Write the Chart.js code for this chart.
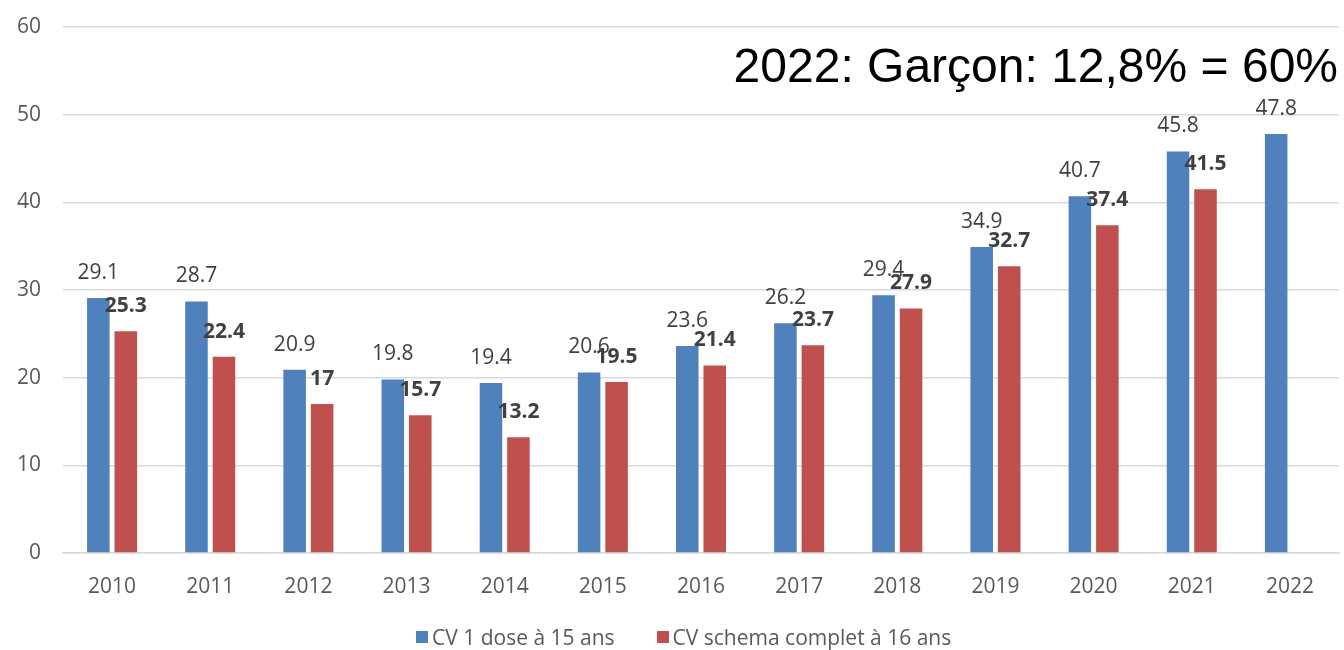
<!DOCTYPE html>
<html lang="fr">
<head>
    <meta charset="UTF-8">
    <title>CV 1 dose / schema complet</title>
    <style>
        * {
            margin: 0;
            padding: 0;
            box-sizing: border-box;
        }

        body {
            background: #ffffff;
            font-family: "Open Sans", sans-serif;
        }

        .chart-box {
            position: relative;
            width: 1344px;
            height: 650px;
        }

        /* big annotation in the top right corner */
        .note {
            position: absolute;
            right: 6px;
            top: 42px;
            font-family: "Liberation Sans", Arial, sans-serif;
            font-size: 48px;
            line-height: 48px;
            color: #000000;
            white-space: nowrap;
        }

        /* legend under the x axis */
        .legend {
            position: absolute;
            left: 416px;
            top: 625px;
            display: flex;
            font-size: 21px;
            line-height: 24px;
            color: #595959;
            white-space: nowrap;
        }

        .legend-item {
            display: flex;
            align-items: center;
            margin-right: 42px;
        }

        .legend-box {
            width: 12px;
            height: 12px;
            margin-right: 4px;
        }
    </style>
</head>
<body>
    <div class="chart-box">
        <canvas id="cvChart"></canvas>
        <div class="note">2022: Garçon: 12,8% = 60%</div>
        <div class="legend" id="legend"></div>
    </div>

    <script src="https://cdn.jsdelivr.net/npm/chart.js"></script>
    <script>
        const years = ['2010', '2011', '2012', '2013', '2014', '2015', '2016', '2017', '2018', '2019', '2020', '2021', '2022'];
        const oneDose = [29.1, 28.7, 20.9, 19.8, 19.4, 20.6, 23.6, 26.2, 29.4, 34.9, 40.7, 45.8, 47.8];
        const fullSchema = [25.3, 22.4, 17, 15.7, 13.2, 19.5, 21.4, 23.7, 27.9, 32.7, 37.4, 41.5, null];
        const yTicks = [0, 10, 20, 30, 40, 50, 60];

        // value labels above the bars (blue normal, red bold)
        const valueLabels = {
            id: 'valueLabels',
            afterDatasetsDraw(chart) {
                const ctx = chart.ctx;
                ctx.save();
                ctx.fillStyle = '#404040';
                ctx.textAlign = 'center';
                ctx.textBaseline = 'middle';
                chart.data.datasets.forEach(function (ds, i) {
                    const meta = chart.getDatasetMeta(i);
                    ctx.font = (i === 1 ? 'bold ' : '') + '21px "Open Sans"';
                    meta.data.forEach(function (bar, j) {
                        const v = ds.data[j];
                        if (v === null) return;
                        ctx.fillText(String(v), bar.x, bar.y - 25);
                    });
                });
                ctx.restore();
            }
        };

        const ctx = document.getElementById('cvChart').getContext('2d');
        const cvChart = new Chart(ctx, {
            type: 'bar',
            data: {
                labels: years,
                datasets: [
                    {
                        label: 'CV 1 dose à 15 ans',
                        data: oneDose,
                        backgroundColor: '#4f81bd',
                        categoryPercentage: 0.56,
                        barPercentage: 0.82
                    },
                    {
                        label: 'CV schema complet à 16 ans',
                        data: fullSchema,
                        backgroundColor: '#c0504d',
                        categoryPercentage: 0.56,
                        barPercentage: 0.82
                    }
                ]
            },
            options: {
                responsive: true,
                maintainAspectRatio: false,
                animation: false,
                layout: {
                    padding: { top: 27, right: 5, left: 0, bottom: 37 }
                },
                plugins: {
                    legend: { display: false },
                    tooltip: { enabled: false }
                },
                scales: {
                    x: {
                        afterFit(scale) { scale.height = 60; },
                        grid: { display: false },
                        border: { color: '#d9d9d9', width: 1.5 },
                        ticks: {
                            color: '#595959',
                            padding: 13,
                            font: { family: 'Open Sans', size: 21 }
                        }
                    },
                    y: {
                        min: 0,
                        max: 60,
                        afterFit(scale) {
                            scale.width = 63;
                            scale.paddingTop = 0;
                            scale.paddingBottom = 0;
                        },
                        afterBuildTicks(scale) {
                            scale.ticks = yTicks.map(function (v) { return { value: v }; });
                        },
                        grid: { color: '#d9d9d9', lineWidth: 1.5, drawTicks: false },
                        border: { display: false },
                        ticks: {
                            color: '#595959',
                            padding: 22,
                            font: { family: 'Open Sans', size: 21 }
                        }
                    }
                }
            },
            plugins: [valueLabels]
        });

        // html legend from the chart's own legend items
        const legendEl = document.getElementById('legend');
        cvChart.options.plugins.legend.labels.generateLabels(cvChart).forEach(function (item) {
            const row = document.createElement('div');
            row.className = 'legend-item';
            const box = document.createElement('span');
            box.className = 'legend-box';
            box.style.background = item.fillStyle;
            const txt = document.createElement('span');
            txt.textContent = item.text;
            row.appendChild(box);
            row.appendChild(txt);
            legendEl.appendChild(row);
        });
    </script>
</body>
</html>
